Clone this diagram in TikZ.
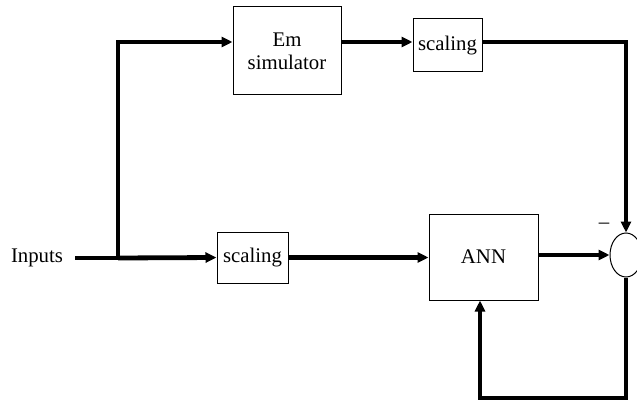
\documentclass[tikz,border=0pt]{standalone}
\usepackage{fontspec}
\setmainfont{Liberation Serif}
\usetikzlibrary{arrows.meta,shapes.geometric}
\begin{document}
\begin{tikzpicture}[x=1pt,y=-1pt,
  box/.style={draw, line width=1pt, inner sep=0pt, align=center, font=\fontsize{20.8}{23}\selectfont},
  flow/.style={line width=4.8pt, -{Triangle[length=11pt,width=10pt]}},
  plain/.style={line width=4.8pt}]
\useasboundingbox (0,0) rectangle (637,401);
\node[font=\fontsize{20.8}{22}\selectfont] (in) at (37,258) {Inputs};
\coordinate (start) at (75,258);
\coordinate (branch) at (118,258);
\coordinate (topleft) at (118,42);
\node[box, minimum width=71pt, minimum height=51pt] (sc2) at (252.5,257.5) {scaling};
\node[box, minimum width=109pt, minimum height=86pt] (ann) at (483.5,257) {ANN};
\node[box, minimum width=108pt, minimum height=88pt] (em) at (287,51) {Em\\simulator};
\node[box, minimum width=69pt, minimum height=53pt] (sc1) at (447.5,45.5) {scaling};
\node[draw, line width=1pt, ellipse, minimum width=32pt, minimum height=44pt, inner sep=0pt] (sum) at (626,255) {};
\node[font=\fontsize{20.8}{22}\selectfont] (minus) at (604,226) {--};
\coordinate (tr) at (626,42);
\coordinate (br) at (626,398);
\coordinate (bl) at (480,398);
\draw[plain] (start) -- (branch);
\draw[flow] (branch) -- (sc2.west);
\draw[flow, line join=miter] ([yshift=2pt]branch) -- (topleft) -- (em.west |- topleft);
\draw[flow] (em.east |- topleft) -- (sc1.west |- topleft);
\draw[flow, line join=miter] (sc1.east |- tr) -- (tr) -- (sum.north);
\draw[flow] (sc2.east) -- (ann.west |- sc2.east);
\draw[flow] (ann.east |- sum.west) -- (sum.west);
\draw[flow, line join=miter] (sum.south) -- (br) -- (bl) -- (ann.south -| bl);
\end{tikzpicture}
\end{document}
